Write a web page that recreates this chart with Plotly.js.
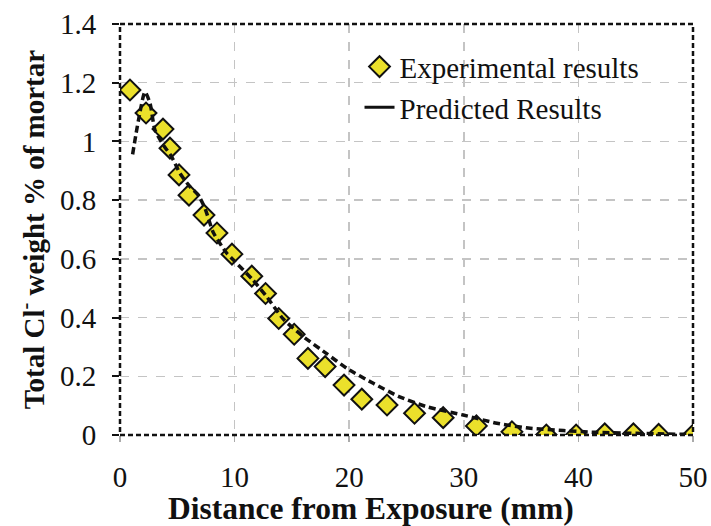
<!DOCTYPE html>
<html><head><meta charset="utf-8">
<script src="https://cdn.plot.ly/plotly-3.0.1.min.js"></script>
<style>html,body{margin:0;padding:0;background:#fff}</style>
</head><body>
<div id="chart" style="width:711px;height:526px"></div>
<script>
var expX = [0.87, 2.27, 3.75, 4.36, 5.15, 6.02, 7.33, 8.46, 9.77, 11.5, 12.7, 13.85, 15.2, 16.4, 17.9, 19.55, 21.1, 23.3, 25.7, 28.2, 31.1, 34.2, 37.2, 39.8, 42.3, 44.8, 47.0, 50.0];
var expY = [1.175, 1.097, 1.042, 0.977, 0.886, 0.817, 0.749, 0.688, 0.616, 0.541, 0.482, 0.397, 0.343, 0.261, 0.233, 0.170, 0.122, 0.102, 0.074, 0.059, 0.031, 0.011, 0.0, 0.0, 0.004, 0.004, 0.002, 0.0];
var predX = [1.1, 1.6, 2.18, 2.62, 3.05, 3.78, 4.5, 5.24, 6.1, 6.83, 7.42, 8.14, 9.3, 9.9, 11.6, 12.8, 14.25, 16.0, 18.0, 19.8, 22.1, 24.4, 26.8, 29.95, 32.9, 35.8, 38.7, 41.6, 44.5, 47.0, 49.7];
var predY = [0.956, 1.07, 1.169, 1.13, 1.039, 0.988, 0.948, 0.891, 0.846, 0.817, 0.772, 0.69, 0.62, 0.596, 0.528, 0.471, 0.395, 0.335, 0.278, 0.227, 0.176, 0.130, 0.096, 0.068, 0.040, 0.023, 0.015, 0.009, 0.006, 0.004, 0.002];
var xTicks = [0, 10, 20, 30, 40, 50];
var yTicks = [0, 0.2, 0.4, 0.6, 0.8, 1, 1.2, 1.4];
var yTickText = ['0', '0.2', '0.4', '0.6', '0.8', '1', '1.2', '1.4'];
var xTitle = 'Distance from Exposure (mm)';
var yTitle = 'Total Cl<sup>-</sup> weight % of mortar';

var traces = [
  {x: expX, y: expY, mode: 'markers', type: 'scatter', name: 'Experimental results',
   marker: {symbol: 'diamond', size: 16, color: '#ebe02b', line: {color: '#111', width: 2}}},
  {x: predX, y: predY, mode: 'lines', type: 'scatter', name: 'Predicted Results', showlegend: false,
   line: {color: '#111', width: 3.5, dash: '7px,4px', shape: 'spline', smoothing: 0.6}},
  {x: [null], y: [null], mode: 'lines', type: 'scatter', name: 'Predicted Results',
   line: {color: '#111', width: 3}}
];
var fam = '"Liberation Serif", "Times New Roman", serif';
var layout = {
  width: 711, height: 526,
  margin: {l: 120, r: 18, t: 24, b: 91},
  paper_bgcolor: '#fff', plot_bgcolor: '#fff',
  font: {family: fam, color: '#111'},
  showlegend: true,
  legend: {x: 0.418, y: 0.958, xanchor: 'left', yanchor: 'top', bgcolor: 'rgba(0,0,0,0)',
    font: {family: fam, size: 29, color: '#111'}, tracegroupgap: 0},
  xaxis: {range: [0, 50], tickvals: xTicks, ticktext: xTicks.map(String), showgrid: true,
    gridcolor: '#c4c4c4', griddash: 'dash', gridwidth: 1.5, zeroline: false,
    ticks: 'outside', ticklen: 6, tickwidth: 1.5, tickcolor: '#aaa', showline: false,
    ticklabelstandoff: 10,
    tickfont: {family: fam, size: 29, color: '#111'}},
  yaxis: {range: [0, 1.4], tickvals: yTicks, ticktext: yTickText, showgrid: true,
    gridcolor: '#c4c4c4', griddash: 'dash', gridwidth: 1.5, zeroline: false,
    ticks: 'outside', ticklen: 7, tickwidth: 2, tickcolor: '#111', showline: false,
    ticklabelstandoff: 10,
    tickfont: {family: fam, size: 29, color: '#111'},
    title: {text: '<b>' + yTitle + '</b>', font: {family: fam, size: 29, color: '#111'}, standoff: 6}},
  annotations: [
    {text: '<b>' + xTitle + '</b>', xref: 'paper', yref: 'paper', x: 0.438, y: -0.178,
     xanchor: 'center', yanchor: 'middle', showarrow: false,
     font: {family: fam, size: 31.5, color: '#111'}}
  ],
  shapes: [
    {type: 'rect', xref: 'paper', yref: 'paper', x0: 0, x1: 1, y0: 0, y1: 1,
     line: {color: '#111', width: 2.5, dash: '5px,3px'}, layer: 'above'}
  ]
};
Plotly.newPlot('chart', traces, layout, {displayModeBar: false, staticPlot: true});
</script>
</body></html>
